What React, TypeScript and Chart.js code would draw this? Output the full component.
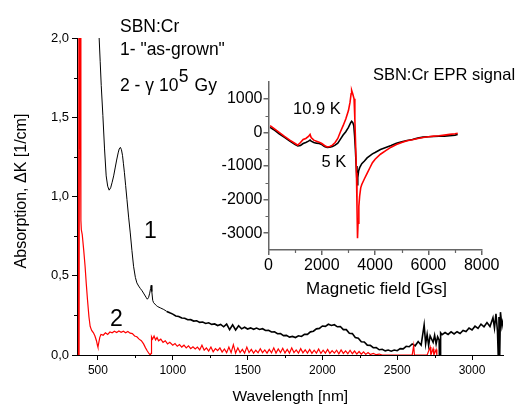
import React, { useEffect, useRef } from 'react';
import { Chart, registerables } from 'chart.js';

Chart.register(...registerables);

const FONT = '"Liberation Sans", Arial, Helvetica, sans-serif';

// ---------- Main chart: absorption spectra ----------
// Curve 1: "as-grown" (black)
const wl1 = [
  500, 508, 515, 522, 533, 544, 555, 565, 575, 585, 595, 605, 615, 625, 635, 642, 650, 657, 664, 670,
  677, 685, 694, 705, 716, 727, 738, 750, 760, 772, 783, 795, 808, 821, 830, 838, 846, 852, 856, 860,
  866, 872, 880, 890, 900, 920, 940, 960, 980, 1000, 1020, 1040, 1060, 1080, 1100, 1120, 1140, 1160,
  1180, 1200, 1220, 1240, 1260, 1280, 1300, 1320, 1340, 1360, 1380, 1400, 1420, 1440, 1460, 1480,
  1500, 1520, 1540, 1560, 1580, 1600, 1620, 1640, 1660, 1680, 1700, 1720, 1740, 1760, 1780, 1800,
  1820, 1840, 1860, 1880, 1900, 1920, 1940, 1960, 1980, 2000, 2020, 2040, 2060, 2080, 2100, 2120,
  2140, 2160, 2180, 2200, 2220, 2240, 2260, 2280, 2300, 2320, 2340, 2360, 2380, 2400, 2420, 2440,
  2460, 2480, 2500, 2520, 2540, 2560, 2580, 2600, 2620, 2640, 2660, 2680, 2690, 2700, 2710, 2720,
  2740, 2750, 2760, 2770, 2780, 2782, 2786, 2790, 2800, 2820, 2840, 2860, 2880, 2900, 2920, 2940,
  2960, 2980, 3000, 3020, 3040, 3060, 3080, 3100, 3120, 3140, 3150, 3160, 3170, 3175, 3180, 3185,
  3190, 3200, 3210,
];
const k1 = [
  2.5, 2.0, 1.85, 1.7, 1.51, 1.3, 1.13, 1.065, 1.04, 1.055, 1.09, 1.13, 1.18, 1.23, 1.275, 1.3, 1.31, 1.295, 1.26, 1.21,
  1.15, 1.07, 0.98, 0.87, 0.77, 0.66, 0.56, 0.49, 0.455, 0.435, 0.42, 0.405, 0.385, 0.365, 0.352, 0.362, 0.39, 0.42, 0.44, 0.4,
  0.345, 0.33, 0.322, 0.312, 0.305, 0.296, 0.287, 0.275, 0.266, 0.258, 0.246, 0.243, 0.233, 0.232, 0.222, 0.223, 0.214, 0.216,
  0.206, 0.208, 0.199, 0.203, 0.193, 0.196, 0.186, 0.193, 0.178, 0.195, 0.16, 0.19, 0.158, 0.185, 0.165, 0.175,
  0.164, 0.171, 0.162, 0.17, 0.161, 0.166, 0.155, 0.156, 0.145, 0.146, 0.134, 0.135, 0.122, 0.124, 0.113, 0.117,
  0.11, 0.121, 0.117, 0.131, 0.13, 0.146, 0.15, 0.165, 0.168, 0.183, 0.181, 0.194, 0.186, 0.191, 0.178, 0.18,
  0.16, 0.16, 0.137, 0.135, 0.11, 0.106, 0.084, 0.082, 0.062, 0.061, 0.046, 0.047, 0.033, 0.036, 0.026, 0.031,
  0.024, 0.031, 0.027, 0.04, 0.039, 0.055, 0.052, 0.07, 0.058, 0.085, 0.062, 0.19, 0.07, 0.13, 0.06, 0.12,
  0.08, 0.125, 0.07, 0.115, 0.095, 0.0, 0.0, 0.14, 0.128, 0.142, 0.13, 0.146, 0.133, 0.147, 0.136, 0.155,
  0.148, 0.17, 0.158, 0.182, 0.168, 0.195, 0.178, 0.205, 0.18, 0.235, 0.17, 0.26, 0.15, 0.0, 0.24, 0.0,
  0.27, 0.18, 0.23,
];

// Curve 2: gamma 10^5 Gy (red)
const wl2 = [
  365, 372, 375, 381, 384, 386, 389, 395, 405, 414, 422, 430, 440, 448, 458, 470, 480, 490, 497, 500,
  505, 512, 520, 535, 550, 565, 580, 595, 610, 625, 640, 655, 670, 685, 700, 715, 730, 745, 760, 775,
  790, 805, 818, 830, 842, 850, 855, 858, 865, 875, 885, 895, 905, 920, 935, 950, 965, 980, 1000, 1015,
  1030, 1045, 1060, 1075, 1090, 1105, 1120, 1135, 1150, 1165, 1180, 1195, 1210, 1225, 1240, 1255, 1270,
  1285, 1300, 1315, 1330, 1345, 1360, 1375, 1390, 1405, 1420, 1435, 1450, 1465, 1480, 1495, 1510, 1525,
  1540, 1555, 1570, 1585, 1600, 1615, 1630, 1645, 1660, 1675, 1690, 1705, 1720, 1735, 1750, 1765, 1780,
  1795, 1810, 1825, 1840, 1855, 1870, 1885, 1900, 1915, 1930, 1945, 1960, 1975, 1990, 2005, 2020, 2035,
  2050, 2065, 2080, 2095, 2110, 2125, 2140, 2155, 2170, 2185, 2200, 2215, 2230, 2245, 2260, 2275, 2290,
  2305, 2320, 2340, 2360, 2380, 2400, 2450, 2500, 2550, 2600, 2610, 2615, 2650, 2700, 2720, 2725, 2740,
  2745, 2760, 2765,
];
const k2 = [
  0.0, 0.0, 2.6, 2.6, 1.3, 0.85, 0.79, 0.76, 0.66, 0.56, 0.45, 0.35, 0.24, 0.18, 0.155, 0.14, 0.12, 0.09, 0.06, 0.05,
  0.075, 0.11, 0.13, 0.125, 0.14, 0.13, 0.145, 0.14, 0.15, 0.142, 0.152, 0.143, 0.15, 0.14, 0.148, 0.138, 0.135, 0.12, 0.115, 0.1,
  0.09, 0.07, 0.045, 0.025, 0.008, 0.0, 0.01, 0.115, 0.1, 0.12, 0.095, 0.11, 0.09, 0.1, 0.08, 0.09, 0.07, 0.08, 0.062, 0.072,
  0.055, 0.066, 0.05, 0.062, 0.045, 0.058, 0.04, 0.052, 0.038, 0.05, 0.032, 0.062, 0.03, 0.045, 0.025, 0.05, 0.02,
  0.04, 0.028, 0.045, 0.018, 0.038, 0.015, 0.05, 0.015, 0.065, 0.012, 0.045, 0.015, 0.035, 0.012, 0.05, 0.015, 0.035,
  0.012, 0.03, 0.014, 0.04, 0.015, 0.032, 0.012, 0.035, 0.014, 0.045, 0.012, 0.038, 0.015, 0.042, 0.013, 0.035, 0.012,
  0.045, 0.015, 0.032, 0.012, 0.04, 0.014, 0.033, 0.012, 0.035, 0.01, 0.03, 0.012, 0.038, 0.01, 0.03, 0.012, 0.035,
  0.01, 0.028, 0.012, 0.03, 0.008, 0.032, 0.01, 0.026, 0.008, 0.03, 0.008, 0.025, 0.006, 0.022, 0.005, 0.02, 0.004,
  0.015, 0.003, 0.01, 0.002, 0.006, 0.0, 0.0, 0.0, 0.0, 0.0, 0.06, 0.0, 0.0, 0.0, 0.05, 0.0, 0.04,
  0.0, 0.035, 0.0,
];

const mainXTicks = [500, 1000, 1500, 2000, 2500, 3000];
const mainXMinor = [750, 1250, 1750, 2250, 2750];
const mainYTicks = [0, 0.5, 1, 1.5, 2];
const mainYLabels = ['0,0', '0,5', '1,0', '1,5', '2,0'];
const mainYMinor = [0.25, 0.75, 1.25, 1.75];

// ---------- Inset: EPR signal ----------
const field5K = [
  60, 200, 400, 600, 800, 1000, 1100, 1200, 1300, 1400, 1500, 1560, 1600, 1700, 1800, 1900, 2000, 2100,
  2200, 2300, 2400, 2500, 2600, 2700, 2800, 2900, 3000, 3080, 3120, 3160, 3200, 3230, 3260, 3290, 3320,
  3335, 3350, 3380, 3420, 3500, 3600, 3700, 3800, 3900, 4000, 4200, 4400, 4600, 4800, 5000, 5200, 5400,
  5600, 5800, 6000, 6200, 6400, 6600, 6800, 7000, 7100,
];
const epr5K = [
  150, 80, -40, -150, -260, -360, -400, -390, -330, -300, -260, -230, -260, -300, -320, -330, -360, -420,
  -450, -440, -420, -380, -320, -200, -80, 20, 150, 280, 330, 300, 200, -100, -500, -1000, -1500,
  -1560, -1350, -1150, -1050, -930, -850, -760, -700, -640, -600, -510, -450, -390, -320, -280, -240, -210,
  -170, -140, -130, -120, -115, -110, -95, -80, -65,
];
const field109K = [
  60, 200, 400, 600, 800, 1000, 1100, 1200, 1300, 1400, 1500, 1560, 1600, 1700, 1800, 1900, 2000, 2100,
  2200, 2300, 2400, 2500, 2600, 2700, 2800, 2900, 3000, 3060, 3100, 3120, 3160, 3210, 3240, 3270, 3300,
  3320, 3340, 3360, 3390, 3420, 3460, 3500, 3600, 3700, 3800, 3900, 4000, 4200, 4400, 4600, 4800, 5000,
  5200, 5400, 5600, 5800, 6000, 6200, 6400, 6600, 6800, 7000, 7100,
];
const epr109K = [
  200, 120, 0, -120, -230, -330, -380, -300, -210, -180, -120, -60, -150, -230, -260, -290, -330, -390,
  -430, -420, -380, -300, -180, 20, 200, 400, 650, 900, 1150, 1250, 1150, 1000, 400, -400, -1200,
  -2200, -3150, -2700, -2200, -1900, -1650, -1550, -1380, -1220, -1060, -900, -800, -650, -540, -440, -360, -300,
  -250, -220, -180, -150, -130, -110, -100, -80, -60, -40, -25,
];

const insetXTicks = [0, 2000, 4000, 6000, 8000];
const insetXMinor = [1000, 3000, 5000, 7000];
const insetYTicks = [-3000, -2000, -1000, 0, 1000];
const insetYMinor = [-2500, -1500, -500, 500];

const toPoints = (xs: number[], ys: number[]) => xs.map((x, i) => ({ x, y: ys[i] }));

function minorTicks(xVals: number[], yVals: number[], color: string, width: number, len: number) {
  return {
    id: 'minorTicks',
    afterDraw(chart: any) {
      const { ctx, chartArea, scales } = chart;
      ctx.save();
      ctx.strokeStyle = color;
      ctx.lineWidth = width;
      ctx.beginPath();
      xVals.forEach((v) => {
        const px = Math.round(scales.x.getPixelForValue(v)) + 0.5;
        ctx.moveTo(px, chartArea.bottom);
        ctx.lineTo(px, chartArea.bottom + len);
      });
      yVals.forEach((v) => {
        const py = Math.round(scales.y.getPixelForValue(v)) + 0.5;
        ctx.moveTo(chartArea.left, py);
        ctx.lineTo(chartArea.left - len, py);
      });
      ctx.stroke();
      ctx.restore();
    },
  };
}

const textPlugin = {
  id: 'annotations',
  afterDraw(chart: any) {
    const ctx = chart.ctx as CanvasRenderingContext2D;
    ctx.save();
    ctx.fillStyle = '#000';
    ctx.textBaseline = 'alphabetic';
    ctx.textAlign = 'left';
    // legend-like text block
    ctx.font = `17.5px ${FONT}`;
    ctx.fillText('SBN:Cr', 120, 32);
    ctx.fillText('1- "as-grown"', 120, 54.5);
    const base = '2 - \u03b3 10';
    ctx.fillText(base, 120, 91);
    const w = ctx.measureText(base).width;
    ctx.fillText('5', 120 + w + 0.5, 81.5);
    const w5 = ctx.measureText('5').width;
    ctx.fillText('Gy', 120 + w + w5 + 6.5, 91);
    // curve labels
    ctx.font = `23px ${FONT}`;
    ctx.fillText('1', 144, 237.5);
    ctx.fillText('2', 110, 326);
    // inset annotations
    ctx.font = `16.5px ${FONT}`;
    ctx.textAlign = 'center';
    ctx.fillText('SBN:Cr EPR signal', 444, 79.5);
    ctx.textAlign = 'left';
    ctx.fillText('10.9 K', 293, 114.3);
    ctx.fillText('5 K', 321.5, 166.7);
    ctx.textAlign = 'center';
    ctx.font = `17px ${FONT}`;
    ctx.fillText('Magnetic field [Gs]', 376.5, 294.3);
    // axis titles
    ctx.font = `15.5px ${FONT}`;
    ctx.fillText('Wavelength [nm]', 290.3, 400.7);
    ctx.translate(21.5, 191);
    ctx.rotate(-Math.PI / 2);
    ctx.font = `16px ${FONT}`;
    ctx.textBaseline = 'middle';
    ctx.fillText('Absorption, \u0394K [1/cm]', 0, 0);
    ctx.restore();
  },
};

export default function App() {
  const mainRef = useRef<HTMLCanvasElement>(null);
  const insetRef = useRef<HTMLCanvasElement>(null);

  useEffect(() => {
    Chart.defaults.font.family = FONT;
    Chart.defaults.color = '#000';

    const main = new Chart(mainRef.current as HTMLCanvasElement, {
      type: 'line',
      data: {
        datasets: [
          {
            label: '2 - gamma 10^5 Gy',
            data: toPoints(wl2, k2),
            borderColor: '#ff0000',
            borderWidth: 1.2,
            pointRadius: 0,
            tension: 0,
            segment: { borderWidth: (c: any) => (c.p0.parsed.x < 383 ? 1.8 : 1.2) },
          },
          {
            label: '1 - as-grown',
            data: toPoints(wl1, k1),
            borderColor: '#000000',
            borderWidth: 1,
            pointRadius: 0,
            tension: 0,
            segment: { borderWidth: (c: any) => (c.p0.parsed.x > 950 ? 1.6 : 1) },
          },
        ],
      },
      options: {
        responsive: false,
        animation: false,
        events: [],
        layout: { padding: { top: 38, right: 17, left: 0, bottom: 0 } },
        plugins: { legend: { display: false }, tooltip: { enabled: false } },
        scales: {
          x: {
            type: 'linear',
            min: 360,
            max: 3207,
            afterFit: (s: any) => { s.height = 49; },
            afterBuildTicks: (s: any) => { s.ticks = mainXTicks.map((v) => ({ value: v })); },
            ticks: { font: { size: 12 }, padding: 3, maxRotation: 0, autoSkip: false, callback: (v: any) => String(v) },
            grid: { display: true, drawOnChartArea: false, drawTicks: true, tickLength: 5, color: '#000', lineWidth: 1 },
            border: { display: true, color: '#000', width: 1 },
          },
          y: {
            type: 'linear',
            min: 0,
            max: 2,
            afterFit: (s: any) => { s.width = 77; },
            afterBuildTicks: (s: any) => { s.ticks = mainYTicks.map((v) => ({ value: v })); },
            ticks: {
              font: { size: 13 },
              padding: 3,
              autoSkip: false,
              callback: (v: any) => mainYLabels[mainYTicks.indexOf(Number(v))] ?? '',
            },
            grid: { display: true, drawOnChartArea: false, drawTicks: true, tickLength: 5, color: '#000', lineWidth: 1 },
            border: { display: true, color: '#000', width: 1 },
          },
        },
      },
      plugins: [minorTicks(mainXMinor, mainYMinor, '#000', 1, 3), textPlugin],
    });

    const inset = new Chart(insetRef.current as HTMLCanvasElement, {
      type: 'line',
      data: {
        datasets: [
          {
            label: '10.9 K',
            data: toPoints(field109K, epr109K),
            borderColor: '#ff0000',
            borderWidth: 1.6,
            pointRadius: 0,
            tension: 0,
          },
          {
            label: '5 K',
            data: toPoints(field5K, epr5K),
            borderColor: '#000000',
            borderWidth: 1.6,
            pointRadius: 0,
            tension: 0,
          },
        ],
      },
      options: {
        responsive: false,
        animation: false,
        events: [],
        layout: { padding: { top: 22, right: 38.3, left: 0, bottom: 0 } },
        plugins: { legend: { display: false }, tooltip: { enabled: false } },
        scales: {
          x: {
            type: 'linear',
            min: 0,
            max: 8000,
            afterFit: (s: any) => { s.height = 55; },
            afterBuildTicks: (s: any) => { s.ticks = insetXTicks.map((v) => ({ value: v })); },
            ticks: { font: { size: 16 }, padding: 1, maxRotation: 0, autoSkip: false, callback: (v: any) => String(v) },
            grid: { display: true, drawOnChartArea: false, drawTicks: true, tickLength: 5, color: '#666', lineWidth: 1.5 },
            border: { display: true, color: '#666', width: 1.5 },
          },
          y: {
            type: 'linear',
            min: -3500,
            max: 1500,
            afterFit: (s: any) => { s.width = 68.5; },
            afterBuildTicks: (s: any) => { s.ticks = insetYTicks.map((v) => ({ value: v })); },
            ticks: { font: { size: 16 }, padding: 1, autoSkip: false, callback: (v: any) => String(v) },
            grid: { display: true, drawOnChartArea: false, drawTicks: true, tickLength: 5, color: '#666', lineWidth: 1.5 },
            border: { display: true, color: '#666', width: 1.5 },
          },
        },
      },
      plugins: [minorTicks(insetXMinor, insetYMinor, '#666', 1.2, 3)],
    });

    return () => {
      main.destroy();
      inset.destroy();
    };
  }, []);

  return (
    <div style={{ position: 'fixed', left: 0, top: 0, width: 520, height: 404, background: '#fff', overflow: 'hidden' }}>
      <canvas ref={mainRef} width={520} height={404} style={{ position: 'absolute', left: 0, top: 0, width: 520, height: 404 }} />
      <canvas ref={insetRef} width={320} height={245} style={{ position: 'absolute', left: 200, top: 60, width: 320, height: 245 }} />
    </div>
  );
}
